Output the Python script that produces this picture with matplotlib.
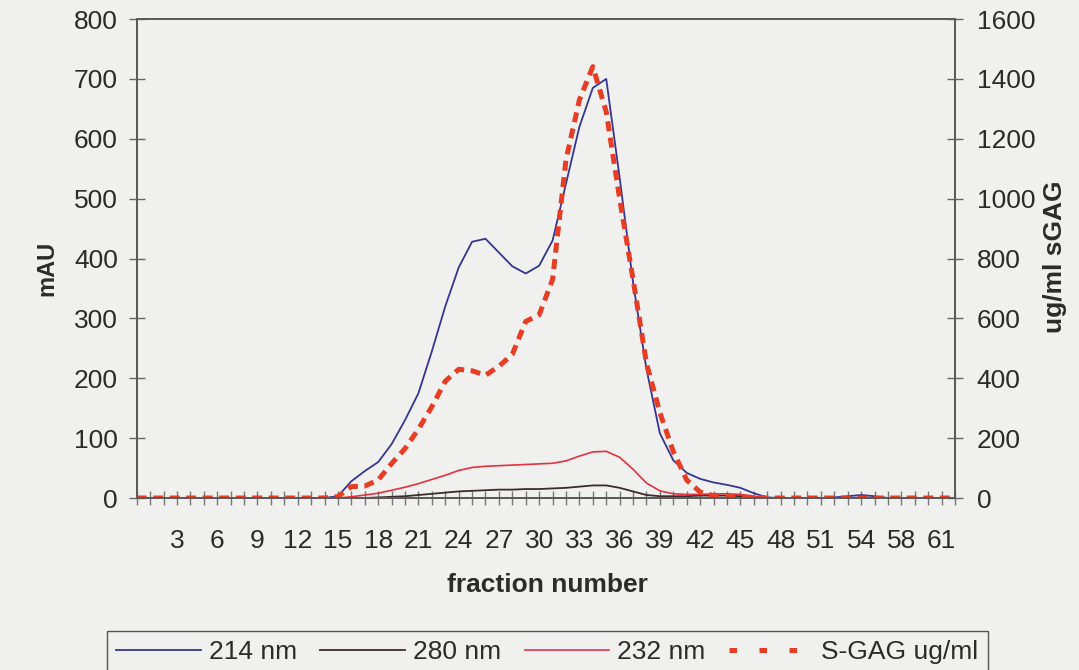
import matplotlib
matplotlib.use("Agg")
import matplotlib.pyplot as plt
from matplotlib.lines import Line2D
import numpy as np

# numero de fraccion (falta la 55 en la serie original)
fractions = [0, 1, 2, 3, 4, 5, 6, 7, 8, 9, 10, 11, 12, 13, 14, 15, 16, 17, 18, 19,
             20, 21, 22, 23, 24, 25, 26, 27, 28, 29, 30, 31, 32, 33, 34, 35, 36, 37, 38, 39,
             40, 41, 42, 43, 44, 45, 46, 47, 48, 49, 50, 51, 52, 53, 54,
             56, 57, 58, 59, 60, 61, 62]

# absorbancia (mAU)
a214 = [0, 0, 0, 0, 0, 0, 0, 0, 0, 0, 0, 0, 0, 0, 0,
        3, 28, 45, 60, 90, 130, 175, 245, 320, 385,
        428, 433, 410, 387, 375, 388, 430, 525, 620, 685,
        700, 535, 360, 215, 108, 63, 42, 32, 26, 22,
        17, 8, 1, 0, 0, 0, 0, 1, 3, 5,
        3, 0, 0, 0, 0, 0, 0]
a280 = [0, 0, 0, 0, 0, 0, 0, 0, 0, 0, 0, 0, 0, 0, 0,
        0, 0, 0, 1, 2, 3, 5, 7, 9, 11,
        12, 13, 14, 14, 15, 15, 16, 17, 19, 21,
        21, 17, 11, 5, 3, 3, 3, 4, 4, 4,
        3, 1, 0, 0, 0, 0, 0, 0, 0, 0,
        0, 0, 0, 0, 0, 0, 0]
a232 = [0, 0, 0, 0, 0, 0, 0, 0, 0, 0, 0, 0, 0, 0, 0,
        0, 2, 5, 8, 13, 18, 24, 31, 38, 46,
        51, 53, 54, 55, 56, 57, 58, 62, 70, 77,
        78, 68, 48, 25, 12, 7, 6, 6, 7, 7,
        6, 3, 0, 0, 0, 0, 0, 0, 0, 0,
        0, 0, 0, 0, 0, 0, 0]
# ug/ml sGAG (eje derecho)
sgag = [0, 0, 0, 0, 0, 0, 0, 0, 0, 0, 0, 0, 0, 0, 0,
        5, 38, 40, 60, 115, 165, 230, 305, 390, 430,
        425, 410, 440, 480, 590, 612, 730, 1130, 1330, 1441,
        1290, 1000, 730, 450, 285, 155, 60, 20, 8, 5,
        3, 2, 0, 0, 0, 0, 0, 0, 0, 0,
        0, 0, 0, 0, 0, 0, 0]

fondo = "#f0f0ef"
texto = "#2b2b2b"
tam = 19

plt.rcParams["font.family"] = ["Liberation Sans", "DejaVu Sans"]

pos = np.arange(len(fractions))

fig = plt.figure(figsize=(10.79, 6.70), dpi=100, facecolor=fondo)
ax = fig.add_axes([0.1267, 0.2567, 0.7584, 0.7149])
ax.set_facecolor(fondo)
ax2 = ax.twinx()

l1, = ax.plot(pos, a214, color="#36358f", lw=1.3, label="214 nm")
l2, = ax.plot(pos, a280, color="#3d2c2c", lw=1.3, label="280 nm")
l3, = ax.plot(pos, a232, color="#e3323f", lw=1.2, label="232 nm")
ax2.plot(pos, sgag, color="#e63d24", lw=3.6, dashes=(2.0, 1.3), solid_capstyle="butt")

ax.set_xlim(0, 61)
ax.set_ylim(0, 800)
ax2.set_ylim(0, 1600)
ax.set_yticks(np.arange(0, 801, 100))
ax2.set_yticks(np.arange(0, 1601, 200))

# etiquetas cada 3 fracciones
ax.set_xticks(pos)
ax.set_xticklabels([str(f) if (i % 3 == 0 and i > 0) else "" for i, f in enumerate(fractions)])

for a in (ax, ax2):
    for s in a.spines.values():
        s.set_color("#5a5a5a")
        s.set_linewidth(1.3)

ax.tick_params(axis="x", direction="inout", length=10, width=1, color="#777777",
               labelsize=tam, labelcolor=texto, pad=17)
ax.tick_params(axis="y", direction="inout", length=11, width=1, color="#666666",
               labelsize=tam, labelcolor=texto, pad=8)
ax2.tick_params(axis="y", direction="inout", length=11, width=1, color="#666666",
                labelsize=tam, labelcolor=texto, pad=10)

fig.text(547 / 1079, 1 - 585 / 670, "fraction number", ha="center", va="center",
         fontsize=tam, fontweight="bold", color=texto)
fig.text(47 / 1079, 1 - 268 / 670, "mAU", ha="center", va="center", rotation=90,
         fontsize=17, fontweight="bold", color=texto)
fig.text(1055 / 1079, 1 - 257 / 670, "ug/ml sGAG", ha="center", va="center", rotation=90,
         fontsize=tam, fontweight="bold", color=texto)

# en la leyenda la linea de puntos se ve como cuadraditos separados
h4 = Line2D([], [], color="#e63d24", lw=3.6, dashes=(1.5, 4.5), solid_capstyle="butt")
leg = fig.legend(handles=[l1, l2, l3, h4], labels=["214 nm", "280 nm", "232 nm", "S-GAG ug/ml"],
                 loc="upper left", bbox_to_anchor=(107 / 1079, 1 - 631 / 670), ncol=4,
                 fontsize=tam, handlelength=3.2, handletextpad=0.3, columnspacing=0.9,
                 borderpad=0.35, borderaxespad=0, fancybox=False,
                 facecolor=fondo, edgecolor="#555555", framealpha=1)
leg.get_frame().set_linewidth(1.0)
for t in leg.get_texts():
    t.set_color(texto)

fig.savefig("out.png", dpi=100, facecolor=fondo)
